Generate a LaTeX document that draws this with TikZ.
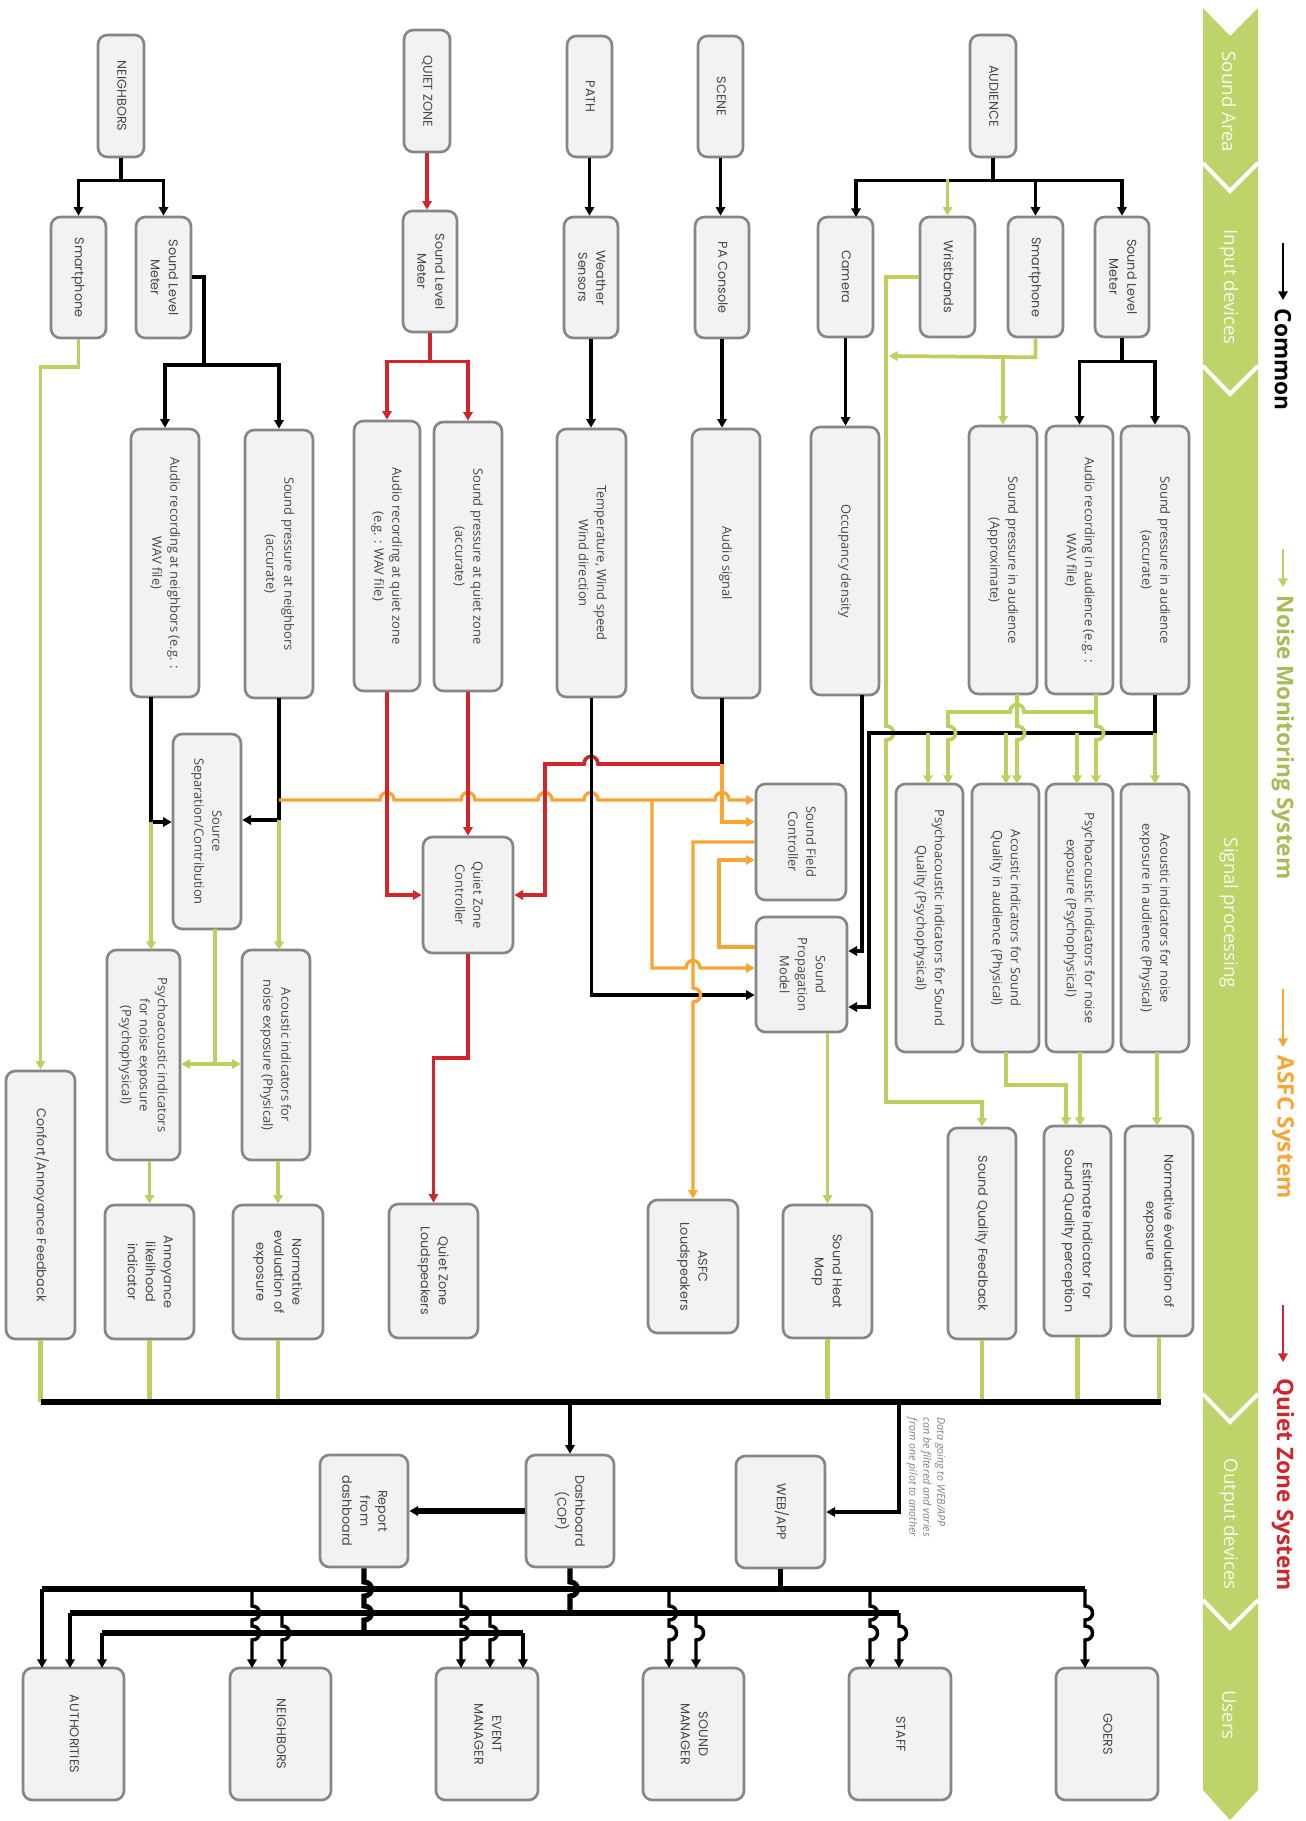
\documentclass[tikz,border=0pt]{standalone}
\usepackage{fontspec}
\setmainfont{Open Sans}
\newfontfamily\popf{Poppins}
\usetikzlibrary{arrows.meta}
\definecolor{gband}{HTML}{BFD36B}
\definecolor{gln}{HTML}{B7D25F}
\definecolor{orng}{HTML}{F9A534}
\definecolor{rdl}{HTML}{D0262B}
\definecolor{boxf}{HTML}{F2F2F2}
\definecolor{boxd}{HTML}{868686}
\definecolor{txt}{HTML}{474747}
\newcommand\fa{\fontsize{9.7}{13.5}\selectfont}
\newcommand\fpp{\popf\fontsize{9.6}{13.5}\selectfont}
\newcommand\bx[7][]{%
 \pgfmathsetmacro\bxw{(#5-#3)*0.75}%
 \pgfmathsetmacro\bxh{(#6-#4)*0.75}%
 \node[bxs,#1,minimum width=\bxw pt,minimum height=\bxh pt] (#2) at ({(#3+#5)/2},{(#4+#6)/2}) {\rotatebox{-90}{\begin{tabular}{@{}c@{}}#7\end{tabular}}};}
\newcommand\hopv[2]{-- (#1,#2-7) .. controls (#1+10,#2-7) and (#1+10,#2+7) .. (#1,#2+7)}
\newcommand\hopr[2]{-- (#1-7,#2) .. controls (#1-7,#2-10) and (#1+7,#2-10) .. (#1+7,#2)}
\newcommand\hopl[2]{-- (#1+7,#2) .. controls (#1+7,#2-10) and (#1-7,#2-10) .. (#1-7,#2)}
\begin{document}
\begin{tikzpicture}[x=0.75pt,y=-0.75pt,
 bxs/.style={draw=boxd,fill=boxf,line width=2pt,rounded corners=7pt,inner sep=1pt,text=txt},
 fa/.style={font=\fa}, fp/.style={font=\fpp},
 ar/.style={-{Triangle[length=6.5pt,width=7pt]}},
 blk/.style={line width=2.6pt,draw=black},
 blkT/.style={line width=3.8pt,draw=black},
 grn/.style={line width=2.8pt,draw=gln},
 grnT/.style={line width=3.4pt,draw=gln},
 org/.style={line width=2.5pt,draw=orng},
 rln/.style={line width=2.7pt,draw=rdl},
 bandtxt/.style={rotate=-90,text=white!88!gband,font=\fontsize{14}{16}\selectfont},
 legtxt/.style={rotate=-90,anchor=west,font=\bfseries\fontsize{17}{20}\selectfont}]
\useasboundingbox (0,0) rectangle (1306,1821);
\fill[white] (0,0) rectangle (1306,1821);

% ---- band ----
\fill[gband] (1203,8) -- (1230,36) -- (1258,8) -- (1258,1790) -- (1230,1820) -- (1203,1790) -- cycle;
\foreach \ys in {163,366,1394,1600}
  \draw[white,line width=3pt] (1203,\ys) -- (1230,\ys+28) -- (1258,\ys);
\node[bandtxt] (bSA) at (1229,102) {Sound Area};
\node[bandtxt] (bID) at (1229,287) {Input devices};
\node[bandtxt] (bSP) at (1229,913) {Signal processing};
\node[bandtxt] (bOD) at (1229,1524) {Output devices};
\node[bandtxt] (bUS) at (1229,1715) {Users};

% ---- legend ----
\draw[black,line width=2.2pt,ar] (1283,243) -- (1283,300);
\node[legtxt,text=black] (lC) at (1283,304) {Common};
\draw[gln,line width=2.2pt,ar] (1283,549) -- (1283,587);
\node[legtxt,text=gln!90!black] (lN) at (1283,591) {Noise Monitoring System};
\draw[orng,line width=2.2pt,ar] (1283,989) -- (1283,1047);
\node[legtxt,text=orng] (lA) at (1283,1051) {ASFC System};
\draw[rdl,line width=2.2pt,ar] (1283,1305) -- (1283,1362);
\node[legtxt,text=rdl] (lQ) at (1283,1374) {Quiet Zone System};

% ---- top row ----
\bx[fp]{nbr}{98}{35}{144}{157}{NEIGHBORS}
\bx[fp]{qz}{404}{30}{450}{152}{QUIET ZONE}
\bx[fp]{npath}{567}{36}{612}{157}{PATH}
\bx[fp]{nscene}{698}{36}{743}{157}{SCENE}
\bx[fp]{aud}{970}{35}{1016}{157}{AUDIENCE}
% ---- input devices ----
\bx[fp]{nsp}{51}{217}{106}{338}{Smartphone}
\bx[fp]{nslm}{136}{217}{191}{338}{Sound Level\\Meter}
\bx[fp]{qslm}{403}{211}{457}{332}{Sound Level\\Meter}
\bx[fp]{wth}{564}{217}{618}{338}{Weather\\Sensors}
\bx[fp]{pa}{695}{217}{749}{338}{PA Console}
\bx[fp]{cam}{818}{217}{873}{337}{Camera}
\bx[fp]{wrist}{920}{217}{975}{337}{Wristbands}
\bx[fp]{asp}{1008}{217}{1063}{337}{Smartphone}
\bx[fp]{aslm}{1095}{217}{1149}{337}{Sound Level\\Meter}
% ---- signals ----
\bx[fa]{narec}{131}{429}{199}{697}{Audio recording at neighbors (e.g. :\\WAV file)}
\bx[fa]{nsp2}{245}{430}{313}{698}{Sound pressure at neighbors\\(accurate)}
\bx[fa]{qarec}{354}{421}{420}{691}{Audio recording at quiet zone\\(e.g. : WAV file)}
\bx[fa]{qsp}{434}{422}{502}{691}{Sound pressure at quiet zone\\(accurate)}
\bx[fa]{temp}{557}{429}{626}{697}{Temperature, Wind speed\\Wind direction}
\bx[fa]{asig}{692}{429}{760}{698}{Audio signal}
\bx[fa]{occ}{811}{427}{879}{695}{Occupancy density}
\bx[fa]{aspa}{969}{426}{1037}{694}{Sound pressure in audience\\(Approximate)}
\bx[fa]{aarec}{1046}{426}{1113}{694}{Audio recording in audience (e.g. :\\WAV file)}
\bx[fa]{aspc}{1121}{426}{1189}{694}{Sound pressure in audience\\(accurate)}
% ---- processing ----
\bx[fa]{ss}{173}{734}{241}{929}{Source\\Separation/Contribution}
\bx[fa]{qzc}{423}{837}{513}{953}{Quiet Zone\\Controller}
\bx[fa]{sfc}{756}{784}{846}{900}{Sound Field\\Controller}
\bx[fa]{spm}{756}{917}{847}{1032}{Sound\\Propagation\\Model}
\bx[fa]{psq}{896}{784}{963}{1052}{Psychoacoustic indicators for Sound\\Quality (Psychophysical)}
\bx[fa]{asq}{972}{784}{1039}{1052}{Acoustic indicators for Sound\\Quality in audience (Physical)}
\bx[fa]{pne}{1046}{784}{1113}{1052}{Psychoacoustic indicators for noise\\exposure (Psychophysical)}
\bx[fa]{ane}{1121}{784}{1189}{1052}{Acoustic indicators for noise\\exposure in audience (Physical)}
\bx[fa]{npi}{107}{950}{180}{1160}{Psychoacoustic indicators\\for noise exposure\\(Psychophysical)}
\bx[fa]{nai}{242}{950}{310}{1160}{Acoustic indicators for\\noise exposure (Physical)}
% ---- outputs ----
\bx[fp]{conf}{6}{1071}{75}{1339}{Confort/Annoyance Feedback}
\bx[fp]{ann}{105}{1205}{194}{1339}{Annoyance\\likelihood\\indicator}
\bx[fp]{nne}{233}{1205}{323}{1339}{Normative\\evaluation of\\exposure}
\bx[fp]{qzl}{389}{1204}{478}{1338}{Quiet Zone\\Loudspeakers}
\bx[fp]{asfc}{648}{1200}{738}{1333}{ASFC\\Loudspeakers}
\bx[fp]{shm}{783}{1205}{872}{1338}{Sound Heat\\Map}
\bx[fp]{sqf}{948}{1128}{1016}{1339}{Sound Quality Feedback}
\bx[fp]{est}{1044}{1126}{1111}{1336}{Estimate indicator for\\Sound Quality perception}
\bx[fp]{nev}{1125}{1126}{1193}{1336}{Normative évaluation of\\exposure}
% ---- dashboards ----
\bx[fp]{rep}{320}{1455}{408}{1567}{Report\\from\\dashboard}
\bx[fp]{dash}{526}{1455}{614}{1567}{Dashboard\\(COP)}
\bx[fp]{web}{736}{1456}{825}{1568}{WEB/APP}
% ---- users ----
\bx[fp]{uauth}{23}{1668}{124}{1800}{AUTHORITIES}
\bx[fp]{unb}{230}{1668}{331}{1800}{NEIGHBORS}
\bx[fp]{uev}{436}{1668}{538}{1800}{EVENT\\MANAGER}
\bx[fp]{usm}{643}{1668}{744}{1800}{SOUND\\MANAGER}
\bx[fp]{ust}{849}{1668}{951}{1800}{STAFF}
\bx[fp]{ugo}{1056}{1668}{1158}{1800}{GOERS}

\node[rotate=-90,anchor=north west,align=left,text=gray,font=\itshape\fontsize{8}{10.5}\selectfont] (note) at (950,1413) {Data going to WEB/APP\\can be filtered and varies\\from one pilot to another};

% ================= connectors =================
% neighbors
\draw[blk,ar] (nbr.south) -- ++(0,22) -| (nsp.north);
\draw[blk,ar] (nbr.south) -- ++(0,22) -| (nslm.north);
\draw[blk] (nslm.east |- 0,277) -- (204,277) -- (204,365);
\draw[blk,ar] (204,365) -| (narec.north);
\draw[blk,ar] (204,365) -| (nsp2.north);
\draw[grn,ar] (nsp.south) -- ++(0,28) -| (conf.north);
\draw[blk,ar] (151,697) -- (151,822) -- (ss.west |- 0,822);
\draw[grn,ar] (151,822) -- (151,950);
\draw[blk,ar] (279,698) -- (279,820) -- (ss.east |- 0,820);
\draw[grn,ar] (279,820) -- (279,950);
\draw[grn] (215,929) -- (215,1064);
\draw[grn,ar] (215,1064) -- (npi.east |- 0,1064);
\draw[grn,ar] (215,1064) -- (nai.west |- 0,1064);
\draw[grn,ar] (ann.north |- npi.south) -- (ann.north);
\draw[grn,ar] (nne.north |- nai.south) -- (nne.north);
% orange main line
\draw[org,ar] (279,800) \hopr{387}{800} \hopr{468}{800} \hopr{545}{800} \hopr{591}{800} \hopr{722}{800} -- (sfc.west |- 0,800);
% quiet zone
\draw[rln,ar] (qz.south) -- (qz.south |- qslm.north);
\draw[rln,ar] (qslm.south) -- ++(0,28) -| (qarec.north);
\draw[rln,ar] (qslm.south) -- ++(0,28) -| (qsp.north);
\draw[rln,ar] (qarec.south) |- (qzc.west);
\draw[rln,ar] (qsp.south) -- (qzc.north);
\draw[rln,ar] (722,764) \hopl{591}{764} -- (545,764) |- (qzc.east);
\draw[rln,ar] (qzc.south) -- (468,1058) -| (qzl.north);
% path / scene
\draw[blk,ar] (npath.south) -- (npath.south |- wth.north);
\draw[blk,ar] (wth.south) -- (wth.south |- temp.north);
\draw[blk,ar] (temp.south) -- (temp.south |- 0,995) -- (spm.west |- 0,995);
\draw[blk,ar] (nscene.south) -- (nscene.south |- pa.north);
\draw[blk,ar] (pa.south) -- (pa.south |- asig.north);
\draw[blk] (722,698) -- (722,764);
\draw[org,ar] (722,764) -- (722,822) -- (sfc.west |- 0,822);
% sfc / spm orange
\draw[org,ar] (sfc.west |- 0,842) -- (693,842) \hopv{693}{995} -- (asfc.north);
\draw[org,ar] (652,800) -- (652,968) \hopr{693}{968} -- (spm.west |- 0,968);
\draw[org,ar] (spm.west |- 0,947) -- (719,947) -- (719,860) -- (sfc.west |- 0,860);
% audience
\draw[blk] (aud.south) -- ++(0,22) coordinate (audb);
\draw[blk,ar] (audb) -| (856,217);
\draw[blk,ar] (audb) -| (asp.north);
\draw[blk,ar] (audb) -| (aslm.north);
\draw[grn,ar] (wrist.north |- 0,179) -- (wrist.north);
\draw[grn,ar] (wrist.west) -- (886,277) \hopv{886}{733} -- (886,1102) -| (sqf.north);
\draw[grn,ar] (asp.south) -- ++(0,19) -- (889,356);
\draw[grn,ar] (1003,356) -- (aspa.north);
\draw[blk] (aslm.south) -- ++(0,23) coordinate (aslb);
\draw[blk,ar] (aslb) -| (aarec.north);
\draw[blk,ar] (aslb) -| (aspc.north);
\draw[blk,ar] (cam.south) -- (cam.south |- occ.north);
\draw[blk,ar] (862,695) -- (862,951) -- (spm.east |- 0,951);
\draw[blk,ar] (aspc.south) -- (1155,733) -- (869,733) -- (869,1007) -- (spm.east |- 0,1007);
\draw[grn,ar] (928,733) -- (928,784);
\draw[grn,ar] (1006,733) -- (1006,784);
\draw[grn,ar] (1077,733) -- (1077,784);
\draw[grn,ar] (1155,733) -- (1155,784);
\draw[grn,ar] (1017,694) \hopv{1017}{733} -- (1017,784);
\draw[grn,ar] (1096,694) -- (1096,712) \hopv{1096}{733} -- (1096,784);
\draw[grn,ar] (1096,712) \hopl{1017}{712} -- (948,712) \hopv{948}{733} -- (948,784);
\draw[grn,ar] (1006,1052) -- (1006,1085) -- (1066,1085) -- (1066,1126);
\draw[grn,ar] (1080,1052) -- (1080,1126);
\draw[grn,ar] (1157,1052) -- (1157,1126);
\draw[grn,ar] (shm.north |- spm.south) -- (shm.north);
% output bus
\foreach \n in {conf,ann,nne,shm,sqf,est,nev}
  \draw[grnT] (\n.south) -- (\n.south |- 0,1402);
\draw[blkT] (41,1402) -- (1161,1402);
\draw[blk,ar] (dash.north |- 0,1402) -- (dash.north);
\draw[blk,ar] (899,1402) |- (web.east);
\draw[blkT,ar] (dash.west) -- (rep.east);
% distribution to users
\draw[blkT] (web.south) -- (web.south |- 0,1589);
\draw[blkT] (42,1589) -- (1085,1589);
\draw[blkT] (dash.south) \hopv{570}{1589} -- (570,1613);
\draw[blkT] (70,1613) -- (899,1613);
\draw[blkT] (rep.south) \hopv{364}{1589} \hopv{364}{1613} -- (364,1633);
\draw[blkT] (102,1633) -- (523,1633);
\draw[blk,ar] (42,1589) -- (42,1668);
\foreach \xa in {252,461,669,870,1085}
  \draw[blk,ar] (\xa,1589) \hopv{\xa}{1613} \hopv{\xa}{1633} -- (\xa,1668);
\draw[blk,ar] (70,1613) -- (70,1668);
\foreach \xb in {282,490,696,899}
  \draw[blk,ar] (\xb,1613) \hopv{\xb}{1633} -- (\xb,1668);
\draw[blk,ar] (102,1633) -- (102,1668);
\draw[blk,ar] (523,1633) -- (523,1668);
\end{tikzpicture}
\end{document}
